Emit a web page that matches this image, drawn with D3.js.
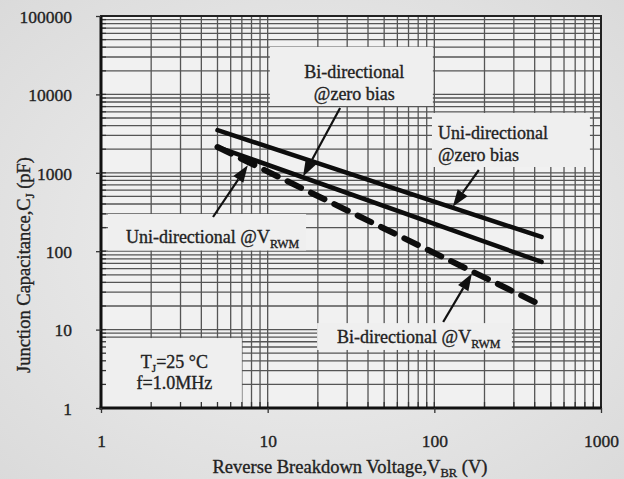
<!DOCTYPE html>
<html><head><meta charset="utf-8">
<script src="https://cdn.jsdelivr.net/npm/d3@7"></script>
<style>body{margin:0;background:#e6e6e6;}svg{display:block;}
svg text{font-family:"Liberation Serif","Times New Roman",Times,"DejaVu Serif",serif !important;stroke:#222;stroke-width:0.35px;}</style>
</head><body>
<svg id="c" width="624" height="479"></svg>
<script>
// ---- data ----
const xTicks = [1, 10, 100, 1000];
const yTicks = [1, 10, 100, 1000, 10000, 100000];
const xLabels = ["1", "10", "100", "1000"];
const yLabels = ["1", "10", "100", "1000", "10000", "100000"];
const uniZeroV = [5, 440];
const uniZeroC = [3500, 152];
const biZeroV = [5, 440];
const biZeroC = [2130, 73];
const vrwmV = [5, 400];
const vrwmC = [2130, 22.5];
// annotation boxes [x0,x1,y0,y1] in data units
const boxBiZero = [10.3, 98, 40300, 7110];
const boxUniZero = [96.8, 858, 5800, 1186];
const boxUniVrwm = [1.1, 17, 298, 102];
const boxBiVrwm = [19.8, 292, 12.1, 5.5];
const boxCond = [1, 7.0, 7.8, 1];
// arrows [fromV, fromC, toV, toC]
const arrowBiZero = [27.2, 6710, 16.3, 900];
const arrowUniZero = [185, 1086, 129, 370];
const arrowUniVrwm = [4.7, 273, 7.6, 1250];
const arrowBiVrwm = [113, 12.5, 168, 52];

const svg = d3.select("#c");
const W = 624, H = 479;
const x = d3.scaleLog().domain([1, 1000]).range([101, 601]);
const y = d3.scaleLog().domain([1, 100000]).range([408, 16]);

// background
const defs = svg.append("defs");
const rg = defs.append("radialGradient").attr("id", "bg").attr("cx", "50%").attr("cy", "50%").attr("r", "75%");
rg.append("stop").attr("offset", "0%").attr("stop-color", "#f1f1f1");
rg.append("stop").attr("offset", "100%").attr("stop-color", "#d9d9d9");
svg.append("rect").attr("width", W).attr("height", H).attr("fill", "url(#bg)");
svg.append("rect").attr("x", x(1)).attr("y", y(100000)).attr("width", x(1000) - x(1)).attr("height", y(1) - y(100000)).attr("fill", "#f1f1f1");

// grid
const gx = [], gy = [];
for (let d = 1; d < 1000; d *= 10) for (let k = 1; k <= 9; k++) gx.push(d * k);
for (let d = 1; d < 100000; d *= 10) for (let k = 1; k <= 9; k++) gy.push(d * k);
const grid = svg.append("g").attr("stroke", "#555").attr("stroke-width", 1.3);
grid.selectAll(".v").data(gx).join("line").attr("x1", d => x(d)).attr("x2", d => x(d)).attr("y1", y(1)).attr("y2", y(100000));
grid.selectAll(".h").data(gy).join("line").attr("y1", d => y(d)).attr("y2", d => y(d)).attr("x1", x(1)).attr("x2", x(1000));

// boxes
function box(b) {
  svg.append("rect").attr("x", x(b[0])).attr("y", y(b[2])).attr("width", x(b[1]) - x(b[0])).attr("height", y(b[3]) - y(b[2])).attr("fill", "#efefef");
}
[boxBiZero, boxUniZero, boxUniVrwm, boxBiVrwm, boxCond].forEach(box);

// minor ticks inside axes
const mt = svg.append("g").attr("stroke", "#333").attr("stroke-width", 1.3);
mt.selectAll("line.mx").data(gx).join("line").attr("x1", d => x(d)).attr("x2", d => x(d)).attr("y1", y(1)).attr("y2", y(1) - 6);
mt.selectAll("line.my").data(gy).join("line").attr("y1", d => y(d)).attr("y2", d => y(d)).attr("x1", x(1)).attr("x2", x(1) + 5);

// frame
svg.append("rect").attr("x", x(1)).attr("y", y(100000)).attr("width", x(1000) - x(1)).attr("height", y(1) - y(100000)).attr("fill", "none").attr("stroke", "#222").attr("stroke-width", 2);
svg.append("line").attr("x1", x(1)).attr("x2", x(1)).attr("y1", y(100000)).attr("y2", y(1) + 1.5).attr("stroke", "#111").attr("stroke-width", 3);
svg.append("line").attr("x1", x(1) - 1.5).attr("x2", x(1000) + 1).attr("y1", y(1)).attr("y2", y(1)).attr("stroke", "#111").attr("stroke-width", 3);

// axes (ticks + labels)
const xAxis = d3.axisBottom(x).tickValues(xTicks).tickFormat((d, i) => xLabels[i]).tickSize(5).tickPadding(22);
const gxA = svg.append("g").attr("transform", `translate(0,${y(1)})`).call(xAxis);
const yAxis = d3.axisLeft(y).tickValues(yTicks).tickFormat((d, i) => yLabels[i]).tickSize(5).tickPadding(24);
const gyA = svg.append("g").attr("transform", `translate(${x(1)},0)`).call(yAxis);
[gxA, gyA].forEach(g => {
  g.attr("font-family", null);
  g.select(".domain").remove();
  g.selectAll(".tick line").attr("stroke", "#333").attr("stroke-width", 1.3);
  g.selectAll(".tick text").attr("font-size", 17.5).attr("fill", "#222");
});
gyA.selectAll(".tick text").attr("dy", "0.36em");

// series
const line = d3.line().x(d => x(d[0])).y(d => y(d[1]));
const ser = [
  {v: uniZeroV, c: uniZeroC, dash: null, w: 4.5},
  {v: biZeroV, c: biZeroC, dash: null, w: 4.5},
  {v: vrwmV, c: vrwmC, dash: "15,11", w: 6}
];
ser.forEach(s => {
  svg.append("path").datum(s.v.map((v, i) => [v, s.c[i]])).attr("d", line)
    .attr("fill", "none").attr("stroke", "#0d0d0d").attr("stroke-width", s.w)
    .attr("stroke-linecap", "round").attr("stroke-dasharray", s.dash);
});

// arrows
function arrow(a) {
  const x0 = x(a[0]), y0 = y(a[1]), x1 = x(a[2]), y1 = y(a[3]);
  const ang = Math.atan2(y1 - y0, x1 - x0);
  const L = 17, hw = 6;
  const bx = x1 - L * Math.cos(ang), by = y1 - L * Math.sin(ang);
  svg.append("line").attr("x1", x0).attr("y1", y0).attr("x2", bx).attr("y2", by).attr("stroke", "#111").attr("stroke-width", 2.2);
  const px = -Math.sin(ang) * hw, py = Math.cos(ang) * hw;
  svg.append("path").attr("d", `M${x1},${y1}L${bx + px},${by + py}L${bx - px},${by - py}Z`).attr("fill", "#111");
}
[arrowBiZero, arrowUniZero, arrowUniVrwm, arrowBiVrwm].forEach(arrow);

// annotation text
function txt(tx, ty, parts, anchor, size) {
  const t = svg.append("text").attr("x", tx).attr("y", ty).attr("text-anchor", anchor || "middle")
    .attr("font-size", size || 18).attr("fill", "#222");
  parts.forEach(p => {
    if (typeof p === "string") t.append("tspan").text(p);
    else t.append("tspan").attr("font-size", p.fs || 12).attr("dy", p.dy).text(p.t);
  });
  return t;
}
const cx = b => (x(b[0]) + x(b[1])) / 2;
txt(cx(boxBiZero) + 3, y(boxBiZero[2]) + 31, ["Bi-directional"]);
txt(cx(boxBiZero) + 3, y(boxBiZero[2]) + 53, ["@zero bias"]);
txt(x(boxUniZero[0]) + 6, y(boxUniZero[2]) + 26, ["Uni-directional"], "start");
txt(x(boxUniZero[0]) + 6, y(boxUniZero[2]) + 48, ["@zero bias"], "start");
txt(x(boxUniVrwm[0]) + 18, y(boxUniVrwm[2]) + 29, ["Uni-directional @V", {t: "RWM", dy: 5}], "start");
txt(x(boxBiVrwm[0]) + 20, y(boxBiVrwm[2]) + 20, ["Bi-directional @V", {t: "RWM", dy: 5}], "start");
txt(cx(boxCond) + 3, y(boxCond[2]) + 30, ["T", {t: "J", dy: 4, fs: 11}, {t: "=25 °C", dy: -4, fs: 18}]);
txt(cx(boxCond) + 3, y(boxCond[2]) + 51, ["f=1.0MHz"]);

// axis titles
txt(350, 473, ["Reverse  Breakdown Voltage,V", {t: "BR", dy: 4, fs: 12.5}, {t: " (V)", dy: -4, fs: 18.5}], "middle", 18.5);
txt(0, 0, ["Junction Capacitance,C", {t: "J", dy: 4, fs: 12.5}, {t: " (pF)", dy: -4, fs: 18.5}], "middle", 18.5)
  .attr("transform", "translate(30,265) rotate(-90)");
</script>
</body></html>
